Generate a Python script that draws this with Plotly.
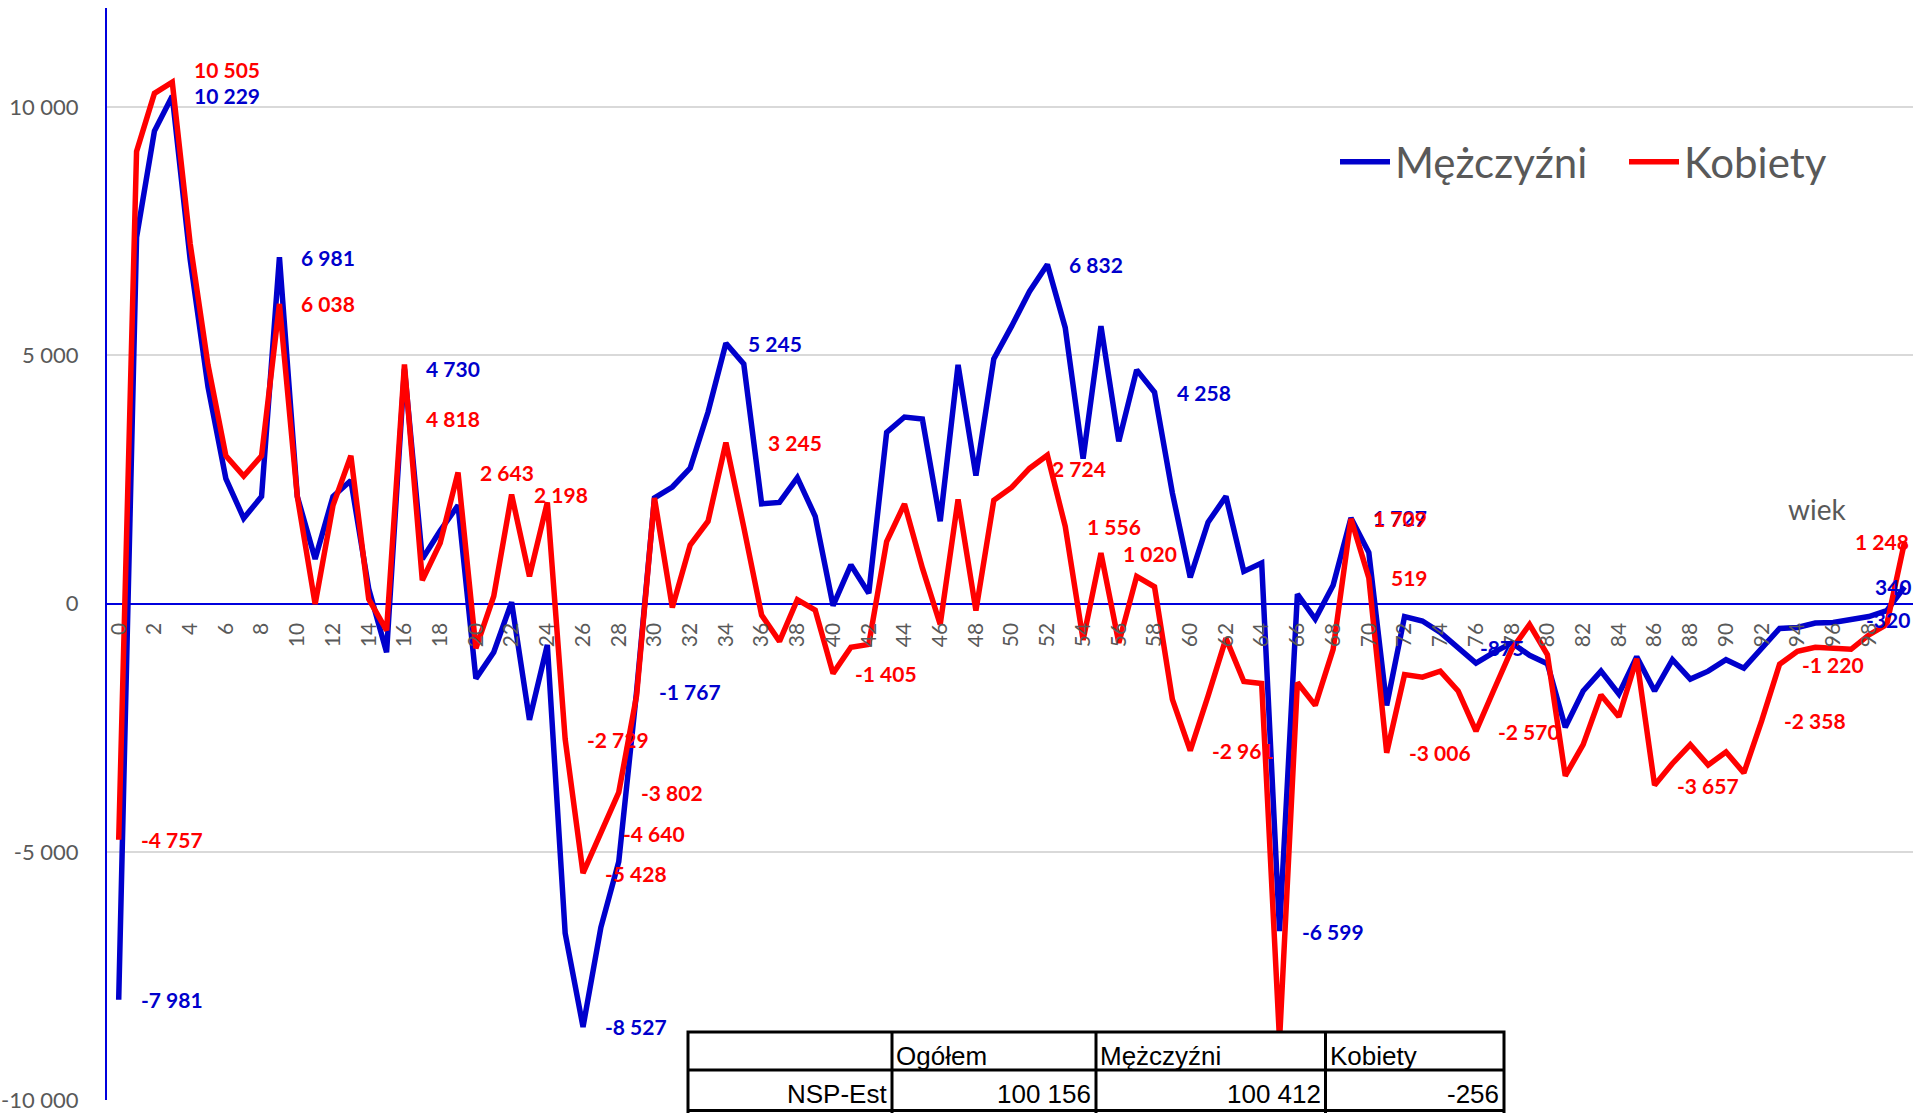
import plotly.graph_objects as go

# ---------------- data ----------------
ages = list(range(101))

men = [-7981, 7380, 9520, 10229, 6940, 4370, 2520, 1720, 2160, 6981,
       2160, 900, 2160, 2480, 300, -980, 4730, 900, 1470, 1980,
       -1510, -980, 30, -2340, -830, -6640, -8527, -6520, -5200, -1767,
       2130, 2350, 2730, 3860, 5245, 4830, 2010, 2040, 2540, 1760,
       -40, 780, 210, 3450, 3760, 3720, 1660, 4810, 2580, 4930,
       5590, 6290, 6832, 5560, 2920, 5590, 3270, 4710, 4258, 2230,
       530, 1640, 2160, 650, 820, -6599, 190, -310, 370, 1727,
       1030, -2050, -260, -350, -580, -875, -1200, -980, -790, -1040,
       -1210, -2490, -1760, -1360, -1820, -1070, -1760, -1130, -1520, -1360,
       -1130, -1300, -920, -500, -480, -390, -380, -320, -260, -140,
       340]

women = [-4757, 9110, 10280, 10505, 7260, 4810, 2980, 2570, 2980, 6038,
         2160, -10, 1980, 2980, 90, -540, 4818, 470, 1220, 2643,
         -900, 150, 2198, 550, 2040, -2729, -5428, -4640, -3802, -1850,
         2130, -80, 1180, 1660, 3245, 1540, -230, -760, 80, -130,
         -1405, -880, -820, 1250, 2010, 720, -420, 2100, -140, 2080,
         2340, 2724, 2990, 1556, -730, 1020, -790, 550, 340, -1930,
         -2961, -1860, -700, -1570, -1610, -8800, -1590, -2050, -920, 1709,
         519, -3006, -1430, -1480, -1360, -1760, -2570, -1740, -920, -420,
         -1030, -3470, -2840, -1840, -2280, -1110, -3657, -3220, -2840, -3250,
         -2990, -3410, -2358, -1220, -960, -880, -890, -920, -630, -420,
         1248]

x_tick_values = list(range(0, 101, 2))
x_tick_labels = [str(a) for a in x_tick_values]
y_tick_values = [-10000, -5000, 0, 5000, 10000]
y_tick_labels = ["-10 000", "-5 000", "0", "5 000", "10 000"]

men_label_ages = [0, 3, 9, 16, 26, 29, 34, 52, 58, 65, 69, 75, 97, 100]
women_label_ages = [0, 3, 9, 16, 19, 22, 25, 26, 27, 28, 34, 40, 51, 53, 55,
                    60, 69, 70, 71, 76, 86, 92, 93, 100]

series_names = ["Mężczyźni", "Kobiety"]
axis_title = "wiek"

table_header = ["", "Ogółem", "Mężczyźni", "Kobiety"]
table_row = ["NSP-Est", "100 156", "100 412", "-256"]

# ---------------- styles ----------------
BLUE = "#0000CC"
RED = "#FF0000"
AXIS_BLUE = "#0000DD"
GRAY_TXT = "#595959"
GRID = "#D9D9D9"

W, H = 1915, 1113
ML, MR, MT, MB = 107, 2, 8, 13
PW = W - ML - MR
PH = H - MT - MB
Y_MIN, Y_MAX = -10000, 12000

# label pixel offsets (style only)
label_shift = {
    ("K", 3): (20, 13),
    ("K", 16): (20, -54),
    ("K", 34): (40, 0),
    ("K", 100): (-52, 0),
    ("M", 100): (-32, 0),
    ("M", 97): (13, 0),
}


def px_to_paper_x(px):
    return (px - ML) / PW


def px_to_paper_y(py):
    return (H - MB - py) / PH


def fmt(v):
    return f"{v:,}".replace(",", " ")


fig = go.Figure()
fig.add_trace(go.Scatter(x=ages, y=men, mode="lines", name=series_names[0],
                         line=dict(color=BLUE, width=5.5), hoverinfo="skip"))
fig.add_trace(go.Scatter(x=ages, y=women, mode="lines", name=series_names[1],
                         line=dict(color=RED, width=5.5), hoverinfo="skip"))

annotations = []
for key, data, label_ages, col in (("M", men, men_label_ages, BLUE),
                                   ("K", women, women_label_ages, RED)):
    for a in label_ages:
        xs, ys = label_shift.get((key, a), (20, 0))
        annotations.append(dict(
            x=ages[a], y=data[a], xref="x", yref="y",
            text=fmt(data[a]), showarrow=False,
            xanchor="left", yanchor="middle", xshift=xs, yshift=ys,
            font=dict(family="Lato", size=21, color=col, weight="bold"),
        ))

# axis title "wiek"
annotations.append(dict(
    x=px_to_paper_x(1817), y=px_to_paper_y(509), xref="paper", yref="paper",
    text=axis_title, showarrow=False, xanchor="center", yanchor="middle",
    font=dict(family="Lato", size=28, color=GRAY_TXT),
))

# ---------------- table (overlay) ----------------
col_x = [688, 892, 1096, 1325.5, 1504]
row_y = [1032, 1070, 1110.5]
shapes = [dict(type="rect", xref="paper", yref="paper",
               x0=px_to_paper_x(col_x[0]), x1=px_to_paper_x(col_x[-1]),
               y0=px_to_paper_y(H + 5), y1=px_to_paper_y(row_y[0]),
               fillcolor="white", line=dict(color="black", width=3),
               layer="above")]
for cx in col_x[1:-1]:
    shapes.append(dict(type="line", xref="paper", yref="paper",
                       x0=px_to_paper_x(cx), x1=px_to_paper_x(cx),
                       y0=px_to_paper_y(H + 5), y1=px_to_paper_y(row_y[0]),
                       line=dict(color="black", width=3), layer="above"))
for ry in row_y[1:]:
    shapes.append(dict(type="line", xref="paper", yref="paper",
                       x0=px_to_paper_x(col_x[0]), x1=px_to_paper_x(col_x[-1]),
                       y0=px_to_paper_y(ry), y1=px_to_paper_y(ry),
                       line=dict(color="black", width=3), layer="above"))

tfont = dict(family="Liberation Sans", size=26, color="black")
for i, t in enumerate(table_header):
    if t:
        annotations.append(dict(x=px_to_paper_x(col_x[i] + 2), y=px_to_paper_y(1056),
                                xref="paper", yref="paper", text=t, showarrow=False,
                                xanchor="left", yanchor="middle", font=tfont))
for i, t in enumerate(table_row):
    annotations.append(dict(x=px_to_paper_x(col_x[i + 1] - 3), y=px_to_paper_y(1094),
                            xref="paper", yref="paper", text=t, showarrow=False,
                            xanchor="right", yanchor="middle", font=tfont))

fig.update_layout(
    width=W, height=H,
    margin=dict(l=ML, r=MR, t=MT, b=MB, pad=0, autoexpand=False),
    paper_bgcolor="white", plot_bgcolor="white",
    showlegend=True,
    legend=dict(orientation="h", x=px_to_paper_x(1335), y=px_to_paper_y(162),
                xanchor="left", yanchor="middle",
                font=dict(family="Lato", size=42, color=GRAY_TXT),
                itemwidth=50,
                entrywidth=224, entrywidthmode="pixels",
                bgcolor="rgba(0,0,0,0)", borderwidth=0),
    xaxis=dict(range=[-0.655, 100.47], tickmode="array", tickvals=x_tick_values,
               ticktext=x_tick_labels, tickangle=-90, showgrid=False,
               zeroline=False, showline=False, ticks="", anchor="free",
               position=(0 - Y_MIN) / (Y_MAX - Y_MIN), ticklabelstandoff=14,
               automargin=False,
               tickfont=dict(family="Lato", size=21, color=GRAY_TXT)),
    yaxis=dict(range=[Y_MIN, Y_MAX], tickmode="array", tickvals=y_tick_values,
               ticktext=y_tick_labels, showgrid=True, gridcolor=GRID, gridwidth=2,
               zeroline=True, zerolinecolor=AXIS_BLUE, zerolinewidth=1.5,
               showline=True, linecolor=AXIS_BLUE, linewidth=2, ticks="",
               ticklabelstandoff=22, automargin=False,
               tickfont=dict(family="Lato", size=22, color=GRAY_TXT)),
    annotations=annotations,
    shapes=shapes,
)

fig.write_html("out.html", config={"displayModeBar": False},
               post_script="document.body.style.margin='0';document.body.style.overflow='hidden';")
